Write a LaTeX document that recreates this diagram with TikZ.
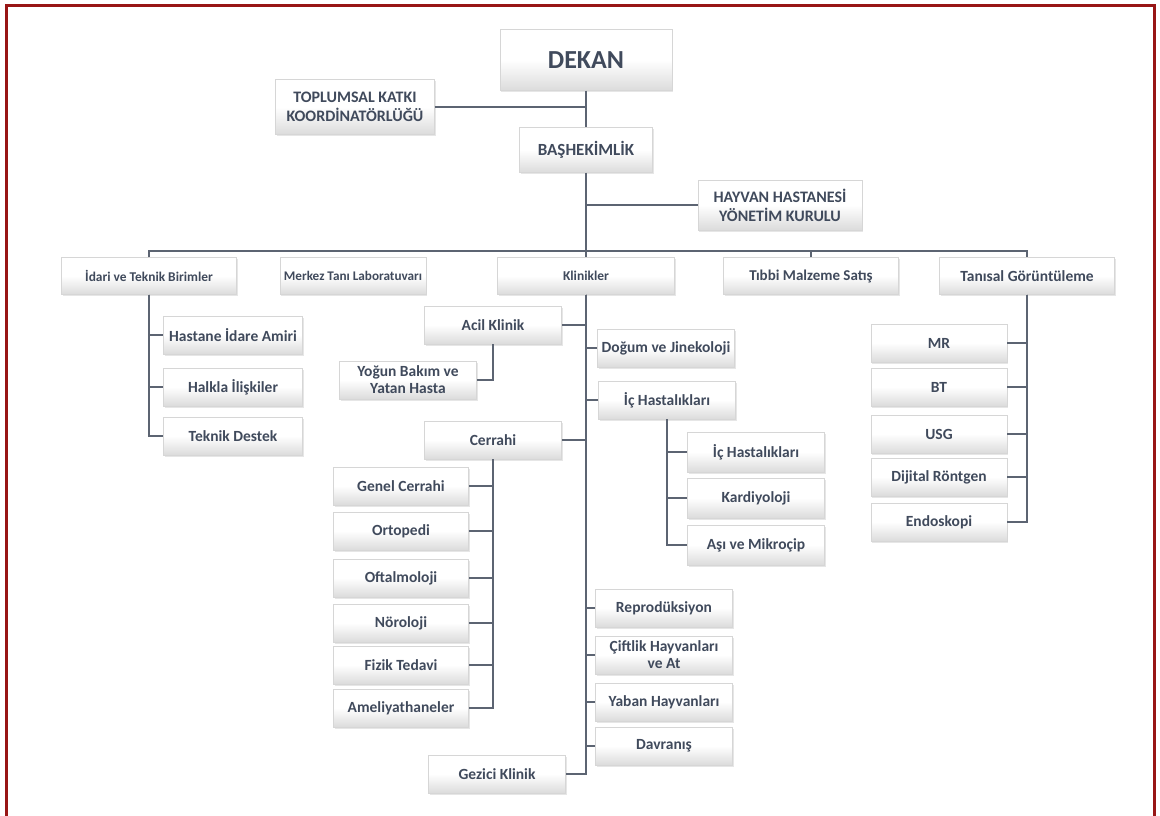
\documentclass[tikz,border=0pt]{standalone}
\usepackage{fontspec}
\setmainfont{Carlito}
\usetikzlibrary{calc, shadows}

\definecolor{boxtext}{RGB}{64,74,92}
\definecolor{linkgray}{RGB}{92,100,114}
\definecolor{framered}{RGB}{152,22,22}

\tikzset{
  box/.style={draw=black!16, top color=white, bottom color=black!14, middle color=white,
    drop shadow={opacity=0.2, shadow xshift=1pt, shadow yshift=-1.5pt},
    text=boxtext, font=\bfseries\fontsize{15.5}{17}\selectfont, align=center,
    inner sep=1pt, minimum width=137pt, minimum height=38pt},
  topbox/.style={box, font=\bfseries\fontsize{16}{19}\selectfont},
  unitbox/.style={box, minimum width=175pt, minimum height=37pt},
  link/.style={draw=linkgray, line width=2pt}
}

\begin{document}
\begin{tikzpicture}[x=1pt, y=-1pt]
\useasboundingbox (0,0) rectangle (1160,816);

% Frame
\draw[framered, line width=3pt] (6.5,820) -- (6.5,5.5) -- (1154,5.5) -- (1154,820);

% Top of the tree
\node[topbox, minimum width=172pt, minimum height=61pt, font=\bfseries\fontsize{26}{28}\selectfont] (dekan) at (586,60) {DEKAN};
\node[topbox, minimum width=159pt, minimum height=55pt] (toplum) at (355,107) {TOPLUMSAL KATKI\\KOORDİNATÖRLÜĞÜ};
\node[topbox, minimum width=133pt, minimum height=45pt, font=\bfseries\fontsize{17}{19}\selectfont] (bashek) at (586,150) {BAŞHEKİMLİK};
\node[topbox, minimum width=164pt, minimum height=50pt] (hayvan) at (780,205) {HAYVAN HASTANESİ\\YÖNETİM KURULU};

\draw[link] (dekan.south) -- (bashek.north);
\draw[link] (toplum.east) -- (toplum.east -| dekan.south);
\draw[link] (hayvan.west) -- (hayvan.west -| bashek.south);

% Units
\node[unitbox, font=\bfseries\fontsize{13.4}{15}\selectfont] (idari) at (149,276) {İdari ve Teknik Birimler};
\node[unitbox, minimum width=146pt, font=\bfseries\fontsize{13.2}{15}\selectfont] (merkez) at (353,276) {Merkez Tanı Laboratuvarı};
\node[unitbox, minimum width=177pt, font=\bfseries\fontsize{13.5}{15}\selectfont] (klinik) at (586,276) {Klinikler};
\node[unitbox, font=\bfseries\fontsize{15}{17}\selectfont] (tibbi) at (811,276) {Tıbbi Malzeme Satış};
\node[unitbox, font=\bfseries\fontsize{15.5}{17}\selectfont] (tanisal) at (1027,276) {Tanısal Görüntüleme};

\coordinate (bus) at (586,251);
\draw[link] (bashek.south) -- (klinik.north);
\draw[link] (idari.north) |- (bus) -| (tanisal.north);
\draw[link] ($(merkez.north)+(15,0)$) -- ($(merkez.north)+(15,0)$ |- bus);
\draw[link] (tibbi.north) -- (tibbi.north |- bus);

% Idari ve Teknik Birimler
\foreach \name/\txt/\y in {hastane/Hastane İdare Amiri/335, halkla/Halkla İlişkiler/387, teknik/Teknik Destek/436} {
    \node[box, minimum width=139pt] (\name) at (233,\y) {\txt};
    \draw[link] (idari.south) |- (\name.west);
}

% Klinikler
\node[box] (acil) at (493,325) {Acil Klinik};
\node[box] (yogun) at (408,380) {Yoğun Bakım ve\\Yatan Hasta};
\node[box] (dogum) at (666,348) {Doğum ve Jinekoloji};
\node[box] (ic) at (667,400) {İç Hastalıkları};
\node[box] (cerrahi) at (493,440) {Cerrahi};
\node[box] (gezici) at (497,774) {Gezici Klinik};

\draw[link] (klinik.south) |- (gezici.east);
\draw[link] (klinik.south) |- (acil.east);
\draw[link] (klinik.south) |- (cerrahi.east);
\draw[link] (klinik.south) |- (dogum.west);
\draw[link] (klinik.south) |- (ic.west);
\draw[link] (acil.south) |- (yogun.east);

\foreach \name/\txt/\y in {reprod/Reprodüksiyon/608, ciftlik/{Çiftlik Hayvanları\\ve At}/655,
    yaban/Yaban Hayvanları/702, davranis/Davranış/746} {
    \node[box] (\name) at (664,\y) {\txt};
    \draw[link] (klinik.south) |- (\name.west);
}

% Cerrahi
\foreach \name/\txt/\y in {genel/Genel Cerrahi/486, orto/Ortopedi/531, oftal/Oftalmoloji/578,
    noro/Nöroloji/623, fizik/Fizik Tedavi/665, amel/Ameliyathaneler/708} {
    \node[box, minimum width=135pt] (\name) at (401,\y) {\txt};
    \draw[link] (cerrahi.south) |- (\name.east);
}

% Ic Hastaliklari
\foreach \name/\txt/\y in {ich/İç Hastalıkları/452, kardiyo/Kardiyoloji/498, asi/Aşı ve Mikroçip/545} {
    \node[box, minimum height=40pt] (\name) at (756,\y) {\txt};
    \draw[link] (ic.south) |- (\name.west);
}

% Tanisal Goruntuleme
\foreach \name/\txt/\y in {mr/MR/343, bt/BT/387, usg/USG/434, dijital/Dijital Röntgen/477, endo/Endoskopi/522} {
    \node[box, minimum width=136pt] (\name) at (939,\y) {\txt};
    \draw[link] (tanisal.south) |- (\name.east);
}

\end{tikzpicture}
\end{document}
